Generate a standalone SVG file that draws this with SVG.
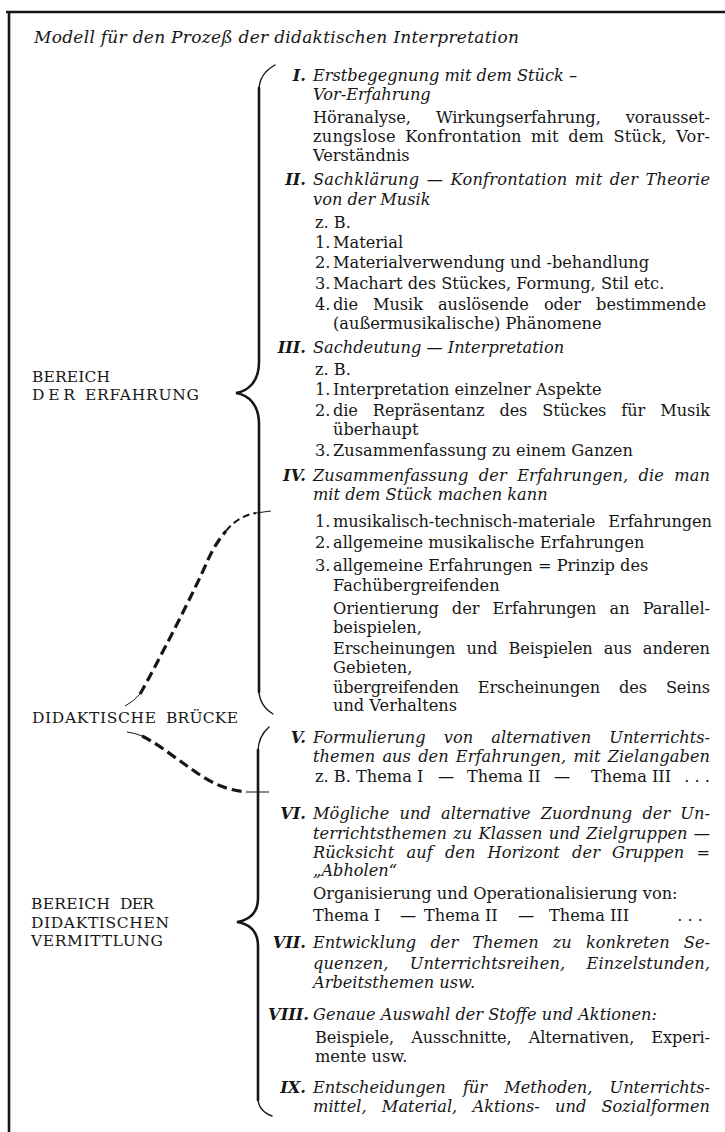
<svg xmlns="http://www.w3.org/2000/svg" width="725" height="1132" viewBox="0 0 725 1132">
<style>
text{font-family:"DejaVu Serif","Liberation Serif",serif;font-size:16.2px;fill:#161616}
.h{font-style:italic}
.n{font-style:italic;font-weight:bold;text-anchor:end}
.lab{font-size:15.5px}
.title{font-style:italic;font-size:17px}
.br{fill:none;stroke:#161616;stroke-width:2.6;stroke-linecap:round}
.bt{fill:none;stroke:#161616;stroke-width:1.4;stroke-linecap:round}
.dash{fill:none;stroke:#161616;stroke-width:3.2;stroke-dasharray:10 5}
.dm{fill:none;stroke:#161616;stroke-width:2;stroke-dasharray:7 4}
.tl{fill:none;stroke:#161616;stroke-width:1}
.frame{fill:none;stroke:#161616;stroke-width:2.6}
</style>
<g id="frame"><path class="frame" d="M6,12 H725 M9,11 V1132"/></g>
<g id="title"><text class="title" x="34" y="43" textLength="485" lengthAdjust="spacing">Modell für den Prozeß der didaktischen Interpretation</text></g>

<g id="bereich-erfahrung">
<text class="lab" x="32" y="382" textLength="78" lengthAdjust="spacing">BEREICH</text>
<text class="lab" x="32" y="400" textLength="43" lengthAdjust="spacing">DER</text>
<text class="lab" x="85" y="400" textLength="114" lengthAdjust="spacing">ERFAHRUNG</text>
</g>
<g id="didaktische-bruecke">
<text class="lab" x="32" y="723" font-size="16" textLength="124" lengthAdjust="spacing">DIDAKTISCHE</text>
<text class="lab" x="166" y="723" font-size="16" textLength="72" lengthAdjust="spacing">BRÜCKE</text>
</g>
<g id="bereich-vermittlung">
<text class="lab" x="31" y="909" textLength="79" lengthAdjust="spacing">BEREICH</text>
<text class="lab" x="120" y="909" textLength="34" lengthAdjust="spacing">DER</text>
<text class="lab" x="31" y="928" textLength="138" lengthAdjust="spacing">DIDAKTISCHEN</text>
<text class="lab" x="31" y="946" textLength="132" lengthAdjust="spacing">VERMITTLUNG</text>
</g>

<g id="connectors">
<path class="bt" d="M275,65 C266,70 259,78 259,90"/>
<path class="br" d="M259,88 V362 C259,382 248,391 236,393 C248,395 259,404 259,424 V692"/>
<path class="bt" d="M259,690 C259,702 265,709 273,714"/>
<path class="bt" d="M269,727 C262,733 258,740 258,752"/>
<path class="br" d="M258,750 V898 C258,914 249,920 237,922 C249,924 258,930 258,946 V1100"/>
<path class="bt" d="M258,1098 C258,1108 264,1113 272,1116"/>
<path class="tl" d="M125,706 Q133,702 140,694"/>
<path class="dash" d="M140,694 C155,668 195,590 207,562 C213,548 220,538 226,531"/>
<path class="dm" d="M226,531 C234,521 244,515 256,513"/>
<path class="tl" d="M256,513 L271,511"/>
<path class="tl" d="M127,732 Q135,733 142,736"/>
<path class="dash" d="M142,736 C160,745 175,758 190,768 C205,779 222,790 247,792"/>
<path class="tl" d="M247,792 L269,792"/>
</g>

<g id="step-I">
<text class="n" x="306" y="81">I.</text>
<text class="h" x="313" y="81">Erstbegegnung mit dem Stück –</text>
<text class="h" x="313" y="100">Vor-Erfahrung</text>
<text x="313" y="123" word-spacing="20" textLength="397" lengthAdjust="spacing">Höranalyse, Wirkungserfahrung, vorausset-</text>
<text x="313" y="142" word-spacing="4" textLength="397" lengthAdjust="spacing">zungslose Konfrontation mit dem Stück, Vor-</text>
<text x="313" y="161">Verständnis</text>
</g>

<g id="step-II">
<text class="n" x="306" y="185">II.</text>
<text class="h" x="313" y="185" word-spacing="2" textLength="397" lengthAdjust="spacing">Sachklärung — Konfrontation mit der Theorie</text>
<text class="h" x="313" y="205">von der Musik</text>
<text x="315" y="228">z. B.</text>
<text x="315" y="248">1.</text><text x="333" y="248">Material</text>
<text x="315" y="268">2.</text><text x="333" y="268">Materialverwendung und -behandlung</text>
<text x="315" y="289">3.</text><text x="333" y="289">Machart des Stückes, Formung, Stil etc.</text>
<text x="315" y="310">4.</text><text x="333" y="310" word-spacing="10" textLength="373" lengthAdjust="spacing">die Musik auslösende oder bestimmende</text>
<text x="333" y="329">(außermusikalische) Phänomene</text>
</g>

<g id="step-III">
<text class="n" x="306" y="353">III.</text>
<text class="h" x="313" y="353">Sachdeutung — Interpretation</text>
<text x="315" y="375">z. B.</text>
<text x="315" y="395">1.</text><text x="333" y="395">Interpretation einzelner Aspekte</text>
<text x="315" y="416">2.</text><text x="333" y="416" word-spacing="10" textLength="377" lengthAdjust="spacing">die Repräsentanz des Stückes für Musik</text>
<text x="333" y="435">überhaupt</text>
<text x="315" y="456">3.</text><text x="333" y="456">Zusammenfassung zu einem Ganzen</text>
</g>

<g id="step-IV">
<text class="n" x="306" y="481">IV.</text>
<text class="h" x="313" y="481" word-spacing="5" textLength="397" lengthAdjust="spacing">Zusammenfassung der Erfahrungen, die man</text>
<text class="h" x="313" y="500">mit dem Stück machen kann</text>
<text x="315" y="527">1.</text><text x="333" y="527" word-spacing="8" textLength="379" lengthAdjust="spacing">musikalisch-technisch-materiale Erfahrungen</text>
<text x="315" y="548">2.</text><text x="333" y="548">allgemeine musikalische Erfahrungen</text>
<text x="315" y="571">3.</text><text x="333" y="571">allgemeine Erfahrungen = Prinzip des</text>
<text x="333" y="591">Fachübergreifenden</text>
<text x="333" y="614" word-spacing="8" textLength="377" lengthAdjust="spacing">Orientierung der Erfahrungen an Parallel-</text>
<text x="333" y="633">beispielen,</text>
<text x="333" y="654" word-spacing="6" textLength="377" lengthAdjust="spacing">Erscheinungen und Beispielen aus anderen</text>
<text x="333" y="673">Gebieten,</text>
<text x="333" y="693" word-spacing="14" textLength="377" lengthAdjust="spacing">übergreifenden Erscheinungen des Seins</text>
<text x="333" y="711">und Verhaltens</text>
</g>

<g id="step-V">
<text class="n" x="306" y="743">V.</text>
<text class="h" x="313" y="743" word-spacing="13" textLength="397" lengthAdjust="spacing">Formulierung von alternativen Unterrichts-</text>
<text class="h" x="313" y="762" word-spacing="2" textLength="397" lengthAdjust="spacing">themen aus den Erfahrungen, mit Zielangaben</text>
<text x="315" y="782">z. B. Thema I</text>
<text x="438" y="782">—</text>
<text x="467" y="782">Thema II</text>
<text x="554" y="782">—</text>
<text x="591" y="782">Thema III</text>
<text x="710" y="782" text-anchor="end">. . .</text>
</g>

<g id="step-VI">
<text class="n" x="306" y="819">VI.</text>
<text class="h" x="313" y="819" word-spacing="5" textLength="397" lengthAdjust="spacing">Mögliche und alternative Zuordnung der Un-</text>
<text class="h" x="313" y="839" word-spacing="1" textLength="397" lengthAdjust="spacing">terrichtsthemen zu Klassen und Zielgruppen —</text>
<text class="h" x="313" y="858" word-spacing="7" textLength="397" lengthAdjust="spacing">Rücksicht auf den Horizont der Gruppen =</text>
<text class="h" x="313" y="876">„Abholen“</text>
<text x="313" y="899">Organisierung und Operationalisierung von:</text>
<text x="313" y="921">Thema I</text>
<text x="400" y="921">—</text>
<text x="424" y="921">Thema II</text>
<text x="518" y="921">—</text>
<text x="549" y="921">Thema III</text>
<text x="703" y="921" text-anchor="end">. . .</text>
</g>

<g id="step-VII">
<text class="n" x="306" y="948">VII.</text>
<text class="h" x="313" y="948" word-spacing="9" textLength="397" lengthAdjust="spacing">Entwicklung der Themen zu konkreten Se-</text>
<text class="h" x="313" y="969" word-spacing="16" textLength="397" lengthAdjust="spacing">quenzen, Unterrichtsreihen, Einzelstunden,</text>
<text class="h" x="313" y="988">Arbeitsthemen usw.</text>
</g>

<g id="step-VIII">
<text class="n" x="309" y="1020">VIII.</text>
<text class="h" x="313" y="1020">Genaue Auswahl der Stoffe und Aktionen:</text>
<text x="315" y="1043" word-spacing="12" textLength="395" lengthAdjust="spacing">Beispiele, Ausschnitte, Alternativen, Experi-</text>
<text x="315" y="1062">mente usw.</text>
</g>

<g id="step-IX">
<text class="n" x="306" y="1093">IX.</text>
<text class="h" x="313" y="1093" word-spacing="12" textLength="397" lengthAdjust="spacing">Entscheidungen für Methoden, Unterrichts-</text>
<text class="h" x="313" y="1112" word-spacing="10" textLength="397" lengthAdjust="spacing">mittel, Material, Aktions- und Sozialformen</text>
</g>
</svg>
